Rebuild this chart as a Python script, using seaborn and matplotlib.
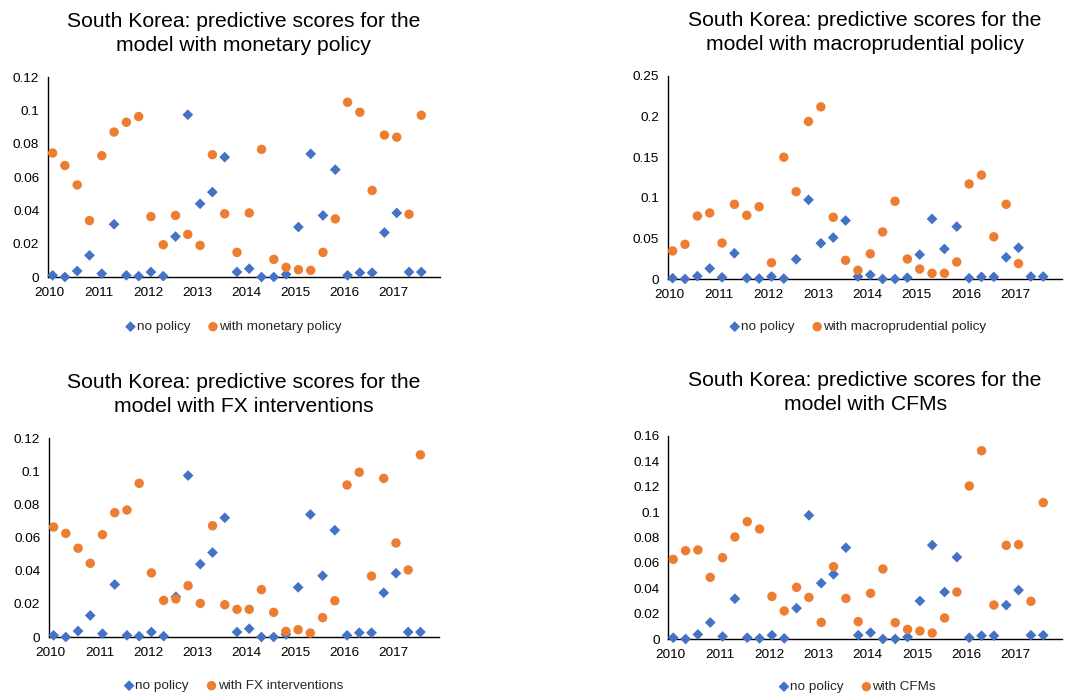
import numpy as np
import pandas as pd
import matplotlib
matplotlib.use("Agg")
import matplotlib.pyplot as plt
import seaborn as sns
from matplotlib.ticker import FuncFormatter

# quarterly dates 2010Q1 .. 2017Q3
quarters = pd.period_range("2010Q1", "2017Q3", freq="Q")
years = list(range(2010, 2018))

no_policy = [0.001, 0.0, 0.0036, 0.013, 0.002, 0.0317, 0.001, 0.0005, 0.003, 0.0005,
             0.0243, 0.0975, 0.044, 0.051, 0.072, 0.003, 0.005, 0.0, 0.0, 0.0016,
             0.030, 0.074, 0.037, 0.0645, 0.001, 0.0026, 0.0026, 0.0267, 0.0385, 0.003, 0.003]

monetary = [0.0745, 0.067, 0.0553, 0.0339, 0.0729, 0.0871, 0.093, 0.0964, 0.0363, 0.0194,
            0.037, 0.0256, 0.019, 0.0735, 0.038, 0.0148, 0.0385, 0.0767, 0.0106, 0.0058,
            0.0044, 0.004, 0.0148, 0.0349, 0.105, 0.099, 0.052, 0.0853, 0.084, 0.0377, 0.0972]

macropru = [0.0345, 0.0427, 0.0776, 0.0813, 0.0443, 0.092, 0.0784, 0.089, 0.020, 0.150,
            0.1075, 0.194, 0.212, 0.076, 0.023, 0.0107, 0.031, 0.058, 0.0957, 0.0246,
            0.0123, 0.007, 0.007, 0.021, 0.117, 0.128, 0.052, 0.092, 0.019, np.nan, np.nan]

fx_interv = [0.0664, 0.0626, 0.0536, 0.0445, 0.0618, 0.0751, 0.0767, 0.0928, 0.0387, 0.0221,
             0.023, 0.031, 0.0203, 0.0672, 0.0195, 0.0167, 0.0167, 0.0286, 0.0149, 0.0034,
             0.0044, 0.0024, 0.0117, 0.0219, 0.0918, 0.0995, 0.0368, 0.0958, 0.0568, 0.0405, 0.110]

cfms = [0.0628, 0.0696, 0.0702, 0.0486, 0.0641, 0.0804, 0.0925, 0.0867, 0.0336, 0.0221,
        0.0407, 0.0328, 0.0131, 0.057, 0.032, 0.0137, 0.036, 0.0552, 0.0129, 0.0076,
        0.0063, 0.0047, 0.0166, 0.037, 0.1206, 0.1484, 0.0268, 0.0738, 0.0744, 0.0297, 0.1075]

panels = [
    ("monetary policy", "with monetary policy", monetary, 0.12, 0.02),
    ("macroprudential policy", "with macroprudential policy", macropru, 0.25, 0.05),
    ("FX interventions", "with FX interventions", fx_interv, 0.12, 0.02),
    ("CFMs", "with CFMs", cfms, 0.16, 0.02),
]

# axes boxes in pixels: left, right, top, bottom
boxes = [(47.7, 440, 77.3, 277), (667.7, 1062, 76, 279),
         (48.7, 439, 438.3, 637), (668.3, 1062, 436, 639)]
legend_x = [234, 858.5, 234, 858]
legend_y = [327, 327, 686, 687]

W, H = 1074, 696
BLUE = "#4472C4"
ORANGE = "#ED7D31"

sns.set_style("white")
plt.rcParams['font.family'] = ['Liberation Sans', 'DejaVu Sans']

fig = plt.figure(figsize=(W / 100, H / 100), dpi=100)

x = np.array([q.year + (q.quarter - 1) / 4 for q in quarters])

for (name, label, vals, ymax, ystep), (l, r, t, b), lx, ly in zip(panels, boxes, legend_x, legend_y):
    ax = fig.add_axes([l / W, (H - b) / H, (r - l) / W, (b - t) / H])
    df = pd.DataFrame({"date": x, "no policy": no_policy, label: vals})
    sns.scatterplot(data=df, x="date", y="no policy", ax=ax, color=BLUE, marker="D",
                    s=30, edgecolor="none", label="no policy", clip_on=False, zorder=3)
    sns.scatterplot(data=df, x="date", y=label, ax=ax, color=ORANGE, marker="o",
                    s=46, edgecolor="none", label=label, clip_on=False, zorder=4)
    ax.set_xlim(2009.9, 2017.88)
    ax.set_ylim(0, ymax)
    ax.set_yticks(np.arange(0, ymax + ystep / 2, ystep))
    ax.yaxis.set_major_formatter(FuncFormatter(lambda v, p: f"{round(v, 3):g}"))
    ax.set_xticks([yr - 0.06 for yr in years])
    ax.set_xticklabels([str(yr) for yr in years])
    ax.set_xlabel("")
    ax.set_ylabel("")
    for s in ["top", "right"]:
        ax.spines[s].set_visible(False)
    for s in ["left", "bottom"]:
        ax.spines[s].set_color("black")
        ax.spines[s].set_linewidth(1.0)
    ax.tick_params(axis="both", direction="out", length=4, width=1, color="black",
                   labelsize=9.7, labelcolor="black", pad=2)
    ax.tick_params(axis="x", pad=3)
    ax.grid(False)
    ax.set_title("South Korea: predictive scores for the\nmodel with " + name,
                 fontsize=15.2, pad=19, color="black", linespacing=1.3)
    ax.get_legend().remove()
    handles, labels = ax.get_legend_handles_labels()
    fig.legend(handles, labels, loc="center", bbox_to_anchor=(lx / W, 1 - ly / H),
               ncol=2, frameon=False, fontsize=9.7, handlelength=0.6,
               handletextpad=0.15, columnspacing=1.4, borderaxespad=0)

fig.savefig("out.png", dpi=100)
